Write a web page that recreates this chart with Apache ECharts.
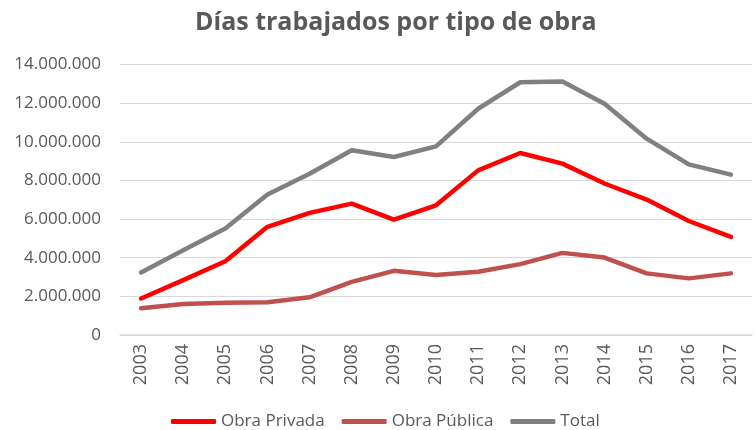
<!DOCTYPE html>
<html>
<head>
<meta charset="utf-8">
<script src="https://cdn.jsdelivr.net/npm/echarts@6/dist/echarts.min.js"></script>
<style>html,body{margin:0;padding:0;background:#fff}#c{width:756px;height:430px}</style>
</head>
<body>
<div id="c"></div>
<script>
var years = ['2003','2004','2005','2006','2007','2008','2009','2010','2011','2012','2013','2014','2015','2016','2017'];
var obraPrivada = [1890000,2840000,3820000,5600000,6320000,6800000,5970000,6710000,8520000,9420000,8870000,7840000,7010000,5900000,5080000];
var obraPublica = [1380000,1600000,1670000,1690000,1950000,2750000,3320000,3100000,3270000,3670000,4250000,4010000,3190000,2930000,3190000];
var total = [3240000,4390000,5510000,7270000,8350000,9560000,9210000,9760000,11710000,13080000,13120000,11970000,10160000,8830000,8300000];
var seriesNames = ['Obra Privada','Obra Pública','Total'];
var colors = ['#FF0000','#C0504D','#808080'];

function fmt(v){ return String(v).replace(/\B(?=(\d{3})+(?!\d))/g,'.'); }

var chart = echarts.init(document.getElementById('c'), null, {renderer:'canvas'});
var font = '"Open Sans", sans-serif';
function line(name, data, color){
  return {name:name, type:'line', data:data, symbol:'none', smooth:false,
    itemStyle:{color:color},
    lineStyle:{color:color, width:4.5, cap:'round', join:'round'}};
}
chart.setOption({
  animation:false,
  backgroundColor:'#ffffff',
  title:{text:'Días trabajados por tipo de obra', left:190, top:5,
    textStyle:{fontFamily:font, fontSize:25, fontWeight:'bold', color:'#595959'}},
  grid:{left:120, right:4, top:64.5, bottom:95, containLabel:false},
  legend:{data:seriesNames, top:408, left:166, itemWidth:45, itemHeight:5, itemGap:17, icon:'roundRect',
    textStyle:{fontFamily:font, fontSize:17, color:'#595959'}},
  xAxis:{type:'category', data:years, boundaryGap:true,
    axisLine:{lineStyle:{color:'#D9D9D9', width:1.5}},
    axisTick:{show:false},
    axisLabel:{rotate:90, margin:9, fontFamily:font, fontSize:18, color:'#595959'}},
  yAxis:{type:'value', min:0, max:14000000, interval:2000000,
    axisLine:{show:false}, axisTick:{show:false},
    splitLine:{lineStyle:{color:'#D9D9D9', width:1}},
    axisLabel:{margin:19, fontFamily:font, fontSize:17, color:'#595959', formatter:fmt}},
  series:[line(seriesNames[0], obraPrivada, colors[0]), line(seriesNames[1], obraPublica, colors[1]), line(seriesNames[2], total, colors[2])]
});
</script>
</body>
</html>
